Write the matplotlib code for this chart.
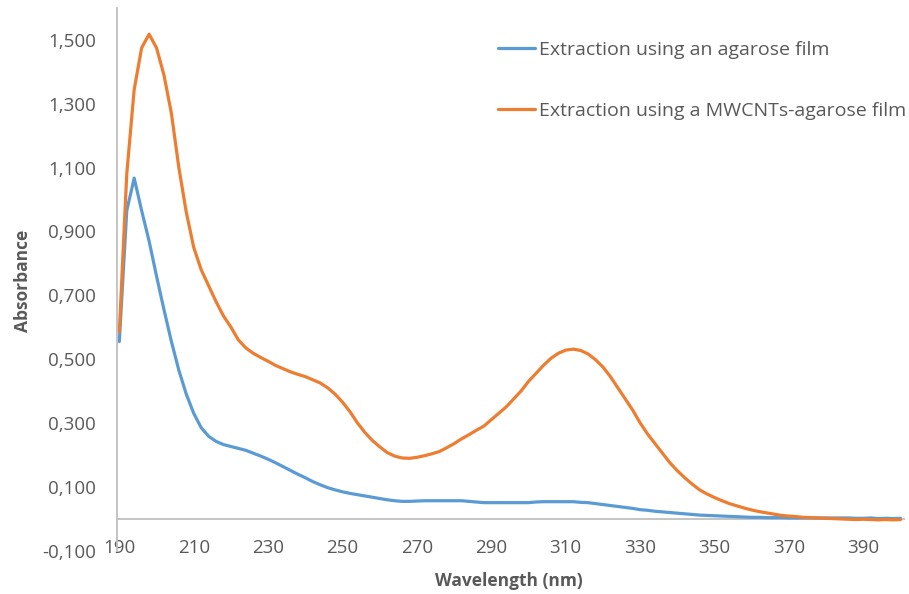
import matplotlib.pyplot as plt
from matplotlib.ticker import FuncFormatter
import numpy as np

# Wavelength grid (nm), one reading every 2 nm
wavelength = np.arange(190, 401, 2)

# Absorbance - extraction using an agarose film
agarose = [
    0.555, 0.965, 1.067, 0.965, 0.870, 0.760, 0.655, 0.555, 0.465, 0.390,
    0.330, 0.285, 0.258, 0.242, 0.232, 0.226, 0.220, 0.214, 0.205, 0.196,
    0.186, 0.175, 0.163, 0.151, 0.139, 0.128, 0.116, 0.106, 0.097, 0.090,
    0.084, 0.079, 0.075, 0.071, 0.067, 0.063, 0.059, 0.056, 0.054, 0.054,
    0.055, 0.056, 0.056, 0.056, 0.056, 0.056, 0.056, 0.054, 0.052, 0.050,
    0.050, 0.050, 0.050, 0.050, 0.050, 0.050, 0.052, 0.053, 0.053, 0.053,
    0.053, 0.053, 0.051, 0.050, 0.047, 0.044, 0.041, 0.038, 0.035, 0.032,
    0.028, 0.026, 0.023, 0.021, 0.019, 0.017, 0.015, 0.013, 0.011, 0.010,
    0.009, 0.008, 0.007, 0.006, 0.005, 0.004, 0.004, 0.003, 0.003, 0.003,
    0.002, 0.002, 0.002, 0.002, 0.002, 0.002, 0.002, 0.002, 0.002, 0.001,
    0.001, 0.002, 0.000, 0.001, 0.000, 0.001,
]

# Absorbance - extraction using a MWCNTs-agarose film
mwcnt = [
    0.585, 1.080, 1.345, 1.475, 1.518, 1.475, 1.390, 1.270, 1.100, 0.960,
    0.850, 0.780, 0.730, 0.680, 0.635, 0.600, 0.560, 0.535, 0.518, 0.505,
    0.493, 0.480, 0.470, 0.460, 0.452, 0.445, 0.435, 0.425, 0.410, 0.390,
    0.365, 0.335, 0.300, 0.270, 0.245, 0.225, 0.207, 0.196, 0.190, 0.189,
    0.192, 0.197, 0.203, 0.210, 0.222, 0.235, 0.250, 0.263, 0.277, 0.290,
    0.310, 0.330, 0.350, 0.375, 0.400, 0.430, 0.455, 0.480, 0.502, 0.518,
    0.528, 0.531, 0.527, 0.516, 0.498, 0.475, 0.445, 0.410, 0.375, 0.340,
    0.300, 0.265, 0.235, 0.205, 0.175, 0.150, 0.128, 0.108, 0.090, 0.077,
    0.066, 0.056, 0.047, 0.040, 0.033, 0.027, 0.022, 0.018, 0.014, 0.010,
    0.008, 0.006, 0.004, 0.003, 0.002, 0.001, 0.000, -0.001, -0.002, -0.003,
    -0.002, -0.003, -0.004, -0.003, -0.004, -0.003,
]

series_labels = ["Extraction using an agarose film",
                 "Extraction using a MWCNTs-agarose film"]
y_ticks = np.arange(-0.1, 1.51, 0.2)
x_ticks = np.arange(190, 391, 20)

plt.rcParams['font.family'] = ['Open Sans', 'DejaVu Sans']
text_grey = '#595959'
axis_grey = '#BFBFBF'

fig = plt.figure(figsize=(9.09, 5.94), dpi=100)
ax = fig.add_axes([0.1284, 0.0732, 0.8672, 0.9133])

ax.plot(wavelength, agarose, color='#5B9BD5', lw=2.3, solid_joinstyle='round',
        solid_capstyle='round', label=series_labels[0])
ax.plot(wavelength, mwcnt, color='#ED7D31', lw=2.3, solid_joinstyle='round',
        solid_capstyle='round', label=series_labels[1])

ax.set_xlim(189.3, 401.2)
ax.set_ylim(-0.1, 1.6)

# horizontal axis line sits at zero, labels stay at the bottom
ax.axhline(0, color=axis_grey, lw=1.3, zorder=1)
for side in ['top', 'right', 'bottom']:
    ax.spines[side].set_visible(False)
ax.spines['left'].set_color(axis_grey)
ax.spines['left'].set_linewidth(1.3)

ax.set_yticks(y_ticks)
ax.yaxis.set_major_formatter(FuncFormatter(lambda v, p: f"{v:.3f}".replace('.', ',')))
ax.set_xticks(x_ticks)
ax.tick_params(axis='y', length=0, pad=15, labelsize=13.5, labelcolor=text_grey)
ax.tick_params(axis='x', length=0, pad=-8, labelsize=13.5, labelcolor=text_grey)

ax.set_xlabel("Wavelength (nm)", fontsize=12.5, fontweight='bold', color=text_grey)
ax.xaxis.set_label_coords(0.498, -0.040)
ax.set_ylabel("Absorbance", fontsize=12.5, fontweight='bold', color=text_grey)
ax.yaxis.set_label_coords(-0.108, 0.497)

ax.legend(loc='upper left', bbox_to_anchor=(498 / 909, 1 - 41 / 594),
          bbox_transform=fig.transFigure, frameon=False, fontsize=14,
          labelcolor=text_grey, handlelength=1.9, handletextpad=0.2,
          labelspacing=2.2, borderpad=0, borderaxespad=0)

fig.savefig("out.png", dpi=100)
